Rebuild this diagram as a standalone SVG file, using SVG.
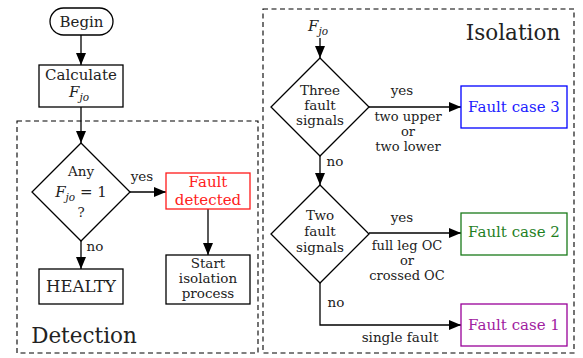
<svg xmlns="http://www.w3.org/2000/svg" width="583" height="358" viewBox="0 0 583 358">
<style>
text{font-family:"DejaVu Serif","Liberation Serif",serif;fill:#222;text-anchor:middle}
.n{font-size:15px}
.l{font-size:13.5px}
.t{font-size:13px}
.c{font-size:15px}
.big{font-size:21.5px}
.s{fill:#fff;stroke:#000;stroke-width:1.3}
.e{fill:none;stroke:#000;stroke-width:1.3}
.d{fill:none;stroke:#000;stroke-width:1.1;stroke-dasharray:5 3.5}
.i{font-style:italic}
</style>
<defs>
<marker id="ah" viewBox="0 0 12 10" refX="12" refY="5" markerWidth="12" markerHeight="10" markerUnits="userSpaceOnUse" orient="auto">
<path d="M0,0 L12,5 L0,10 Z" fill="#000"/>
</marker>
</defs>
<g id="regions">
<rect class="d" x="17" y="121" width="241" height="232"/>
<rect class="d" x="263" y="9" width="311" height="344"/>
<text class="big" x="84" y="343">Detection</text>
<text class="big" x="513" y="40">Isolation</text>
</g>
<g id="connectors">
<path class="e" d="M81,35 V65" marker-end="url(#ah)"/>
<path class="e" d="M81,107 V143" marker-end="url(#ah)"/>
<path class="e" d="M130,192 H166" marker-end="url(#ah)"/>
<text class="l" x="142" y="181">yes</text>
<path class="e" d="M81,241 V269" marker-end="url(#ah)"/>
<text class="l" x="95" y="251">no</text>
<path class="e" d="M208,209 V255" marker-end="url(#ah)"/>
<path class="e" d="M320,38 V58" marker-end="url(#ah)"/>
<path class="e" d="M369,107 H461" marker-end="url(#ah)"/>
<text class="l" x="402" y="95">yes</text>
<text class="t" x="408" y="121">two upper</text>
<text class="t" x="408" y="136">or</text>
<text class="t" x="408" y="151">two lower</text>
<path class="e" d="M320,156 V185" marker-end="url(#ah)"/>
<text class="l" x="335" y="166">no</text>
<path class="e" d="M369,233 H461" marker-end="url(#ah)"/>
<text class="l" x="402" y="222">yes</text>
<text class="t" x="407" y="250">full leg OC</text>
<text class="t" x="407" y="265">or</text>
<text class="t" x="407" y="280">crossed OC</text>
<path class="e" d="M320,283 V325 H461" marker-end="url(#ah)"/>
<text class="l" x="336" y="307">no</text>
<text class="l" x="400" y="342">single fault</text>
<text class="n" x="318" y="31"><tspan class="i">F</tspan><tspan class="i" font-size="10.5" dy="4">jo</tspan></text>
</g>
<g id="begin">
<rect class="s" x="50" y="8" width="63" height="27" rx="13.5"/>
<text class="n" x="81.5" y="27">Begin</text>
</g>
<g id="calculate">
<rect class="s" x="39" y="65" width="84" height="42"/>
<text class="n" x="81" y="80">Calculate</text>
<text class="n" x="79" y="97"><tspan class="i">F</tspan><tspan class="i" font-size="10.5" dy="4">jo</tspan></text>
</g>
<g id="any">
<path class="s" d="M81,143 L130,192 L81,241 L32,192 Z"/>
<text class="l" x="81" y="176">Any</text>
<text class="n" x="81" y="197"><tspan class="i">F</tspan><tspan class="i" font-size="10.5" dy="4">jo</tspan><tspan dy="-4"> = 1</tspan></text>
<text class="l" x="81" y="217">?</text>
</g>
<g id="detected">
<rect x="166" y="173" width="84" height="36" fill="#fff" stroke="#ff1a1a" stroke-width="1.3"/>
<text class="n" x="208" y="187" style="fill:#ff2020">Fault</text>
<text class="n" x="208" y="204.5" style="fill:#ff2020">detected</text>
</g>
<g id="healthy">
<rect class="s" x="39" y="269" width="84" height="35"/>
<text class="n" x="81" y="292" style="font-size:16.5px">HEALTY</text>
</g>
<g id="start">
<rect class="s" x="166" y="255" width="84" height="49"/>
<text class="l" x="208" y="268">Start</text>
<text class="l" x="208" y="283">isolation</text>
<text class="l" x="208" y="298">process</text>
</g>
<g id="three">
<path class="s" d="M320,58 L369,107 L320,156 L271,107 Z"/>
<text class="l" x="320" y="95">Three</text>
<text class="l" x="320" y="110">fault</text>
<text class="l" x="320" y="125">signals</text>
</g>
<g id="two">
<path class="s" d="M320,185 L369,234 L320,283 L271,234 Z"/>
<text class="l" x="320" y="220">Two</text>
<text class="l" x="320" y="236">fault</text>
<text class="l" x="320" y="252">signals</text>
</g>
<g id="case3">
<rect x="461" y="86" width="106" height="42" fill="#fff" stroke="#0000ff" stroke-width="1.3"/>
<text class="c" x="514" y="112" style="fill:#2020ff">Fault case 3</text>
</g>
<g id="case2">
<rect x="461" y="213" width="106" height="42" fill="#fff" stroke="#1a7a1a" stroke-width="1.3"/>
<text class="c" x="514" y="237" style="fill:#1f7f1f">Fault case 2</text>
</g>
<g id="case1">
<rect x="461" y="304" width="106" height="42" fill="#fff" stroke="#990099" stroke-width="1.3"/>
<text class="c" x="514" y="330" style="fill:#a020a0">Fault case 1</text>
</g>
</svg>
